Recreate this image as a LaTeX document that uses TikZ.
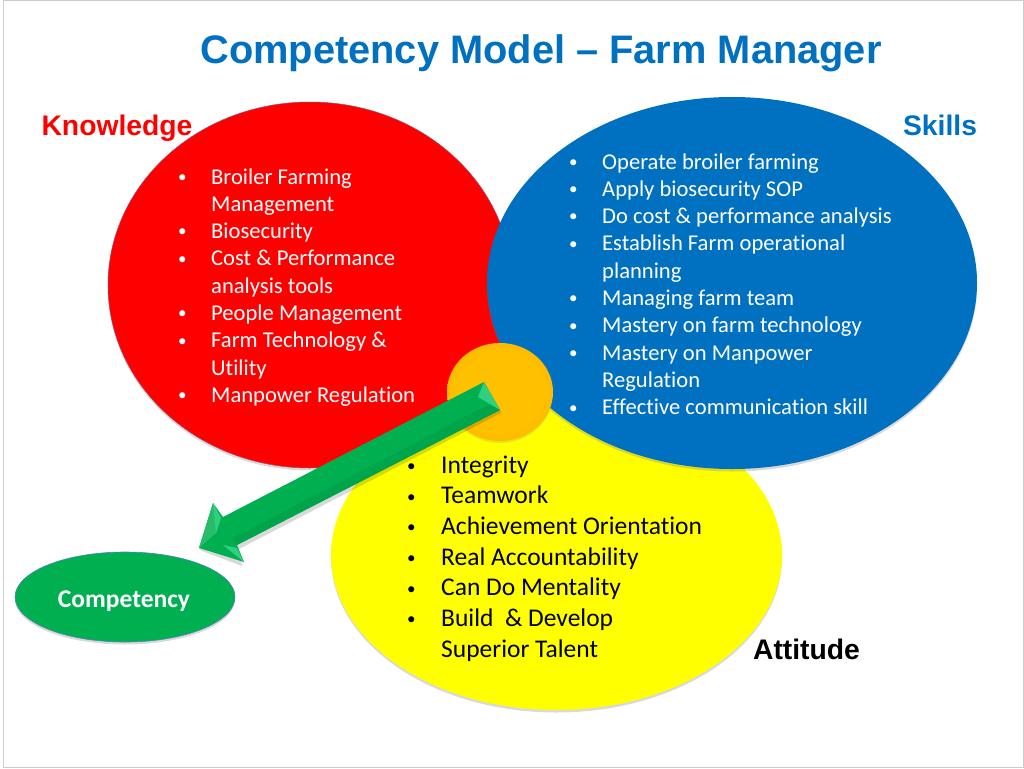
\documentclass[tikz,border=0pt]{standalone}
\usepackage{fontspec}
\setmainfont[Ligatures=NoCommon]{Carlito}
\newfontfamily\headfont{Liberation Sans}
\usepackage{tikz}
\usetikzlibrary{shadows,shapes.geometric}
\definecolor{blueset}{HTML}{0070C0}
\definecolor{redset}{HTML}{FF0000}
\definecolor{yellowset}{HTML}{FFFF00}
\definecolor{greenset}{HTML}{00B050}
\definecolor{goldset}{HTML}{FFC000}
\definecolor{rimset}{HTML}{4F81BD}
\definecolor{lightgreen}{HTML}{30D080}
\pgfdeclareradialshading{goldball}{\pgfpoint{0bp}{0bp}}{color(0bp)=(goldset); color(21bp)=(goldset); color(25bp)=(goldset!90!orange); color(50bp)=(goldset!90!orange)}
\tikzset{
  setblob/.style={ellipse,inner sep=0pt,
    drop shadow={shadow xshift=0pt,shadow yshift=-2.5pt,opacity=0.3}},
  headtext/.style={font=\headfont\bfseries\fontsize{28.3}{32}\selectfont,inner sep=0pt},
  listtext/.style={anchor=base west,inner sep=0pt,align=left},
}
\def\setlist#1{\begin{tabular}[t]{@{}p{#1}@{}l@{}}}
\def\setbullet{{\fontsize{17}{17}\selectfont\raisebox{0.1em}{\textbullet}}}

\begin{document}
\begin{tikzpicture}[x=1pt,y=-1pt]
\useasboundingbox (0,0) rectangle (1024,768);
\draw[black!20,line width=1pt] (3,0.5) -- (1023.5,0.5) -- (1023.5,767.5) -- (3,767.5) -- cycle;
\node[headtext,text=blueset,font=\headfont\bfseries\fontsize{39.8}{44}\selectfont] (title) at (541,53) {Competency Model – Farm Manager};
% the three sets
\node[setblob,fill=redset,draw=rimset!60!redset,line width=0.5pt,minimum width=404pt,minimum height=366pt] (knowledge) at (310,285) {};
\node[setblob,fill=yellowset,minimum width=451pt,minimum height=310pt] (attitude) at (556.5,555) {};
\node[setblob,fill=blueset,minimum width=490pt,minimum height=372pt] (skills) at (732,283) {};
\node[headtext,text=redset] (knowledgelabel) at (117,128) {Knowledge};
\node[headtext,text=blueset] (skillslabel) at (940,125) {Skills};
\node[headtext,text=black] (attitudelabel) at (806.5,649) {Attitude};
\node[listtext,text=white,font=\fontsize{22.6}{27.3}\selectfont] (knowledgelist) at (178,184) {\setlist{33pt}
\setbullet & Broiler Farming\\
 & Management\\
\setbullet & Biosecurity\\
\setbullet & Cost \& Performance\\
 & analysis tools\\
\setbullet & People Management\\
\setbullet & Farm Technology \&\\
 & Utility\\
\setbullet & Manpower Regulation
\end{tabular}};
\node[listtext,text=white,font=\fontsize{22.6}{27.3}\selectfont] (skillslist) at (569,169) {\setlist{33pt}
\setbullet & Operate broiler farming\\
\setbullet & Apply biosecurity SOP\\
\setbullet & Do cost \& performance analysis\\
\setbullet & Establish Farm operational\\
 & planning\\
\setbullet & Managing farm team\\
\setbullet & Mastery on farm technology\\
\setbullet & Mastery on Manpower\\
 & Regulation\\
\setbullet & Effective communication skill
\end{tabular}};
\node[listtext,text=black,font=\fontsize{25.5}{30.7}\selectfont] (attitudelist) at (407,473) {\setlist{34pt}
\setbullet & Integrity\\
\setbullet & Teamwork\\
\setbullet & Achievement Orientation\\
\setbullet & Real Accountability\\
\setbullet & Can Do Mentality\\
\setbullet & Build\ \ \& Develop\\
 & Superior Talent
\end{tabular}};
% core and result
\node[ellipse,inner sep=0pt,shading=goldball,minimum width=106pt,minimum height=98pt,
  drop shadow={shadow xshift=0pt,shadow yshift=-2pt,opacity=0.2}] (core) at (500,392) {};
\node[setblob,fill=greenset,draw=rimset,line width=0.6pt,minimum width=220pt,minimum height=90pt] (competency) at (125,597) {};
\node[text=white,inner sep=0pt,font=\bfseries\fontsize{25.5}{28}\selectfont] (competencylabel) at (124,601) {Competency};
% block arrow
\coordinate (taila) at (484,382);
\coordinate (tailb) at (500,410);
\coordinate (tailc) at (478,397);
\coordinate (necka) at (223,517);
\coordinate (neckb) at (237,545);
\coordinate (winga) at (213,503);
\coordinate (wingb) at (244,562);
\coordinate (tip) at (199,548);
\fill[black,opacity=0.15] (tailb) -- (neckb) -- (wingb) -- (tip) -- ++(3,3) -- ++(40,15) -- (239,549) -- (501,413) -- cycle;
\fill[greenset] (taila) -- (necka) -- (winga) -- (tip) -- (wingb) -- (neckb) -- (tailb) -- cycle;
\fill[greenset!93!black] (494,402) -- (tailb) -- (neckb) -- (233,538) -- cycle;
\fill[greenset!85!white] (winga) -- (221,518) -- (216,533) -- (tip) -- cycle;
\fill[lightgreen] (taila) -- (tailb) -- (tailc) -- cycle;
\fill[lightgreen] (winga) -- (221,518) -- (216,533) -- cycle;
\fill[lightgreen] (wingb) -- (223,545) -- (237,548) -- cycle;
\end{tikzpicture}
\end{document}
